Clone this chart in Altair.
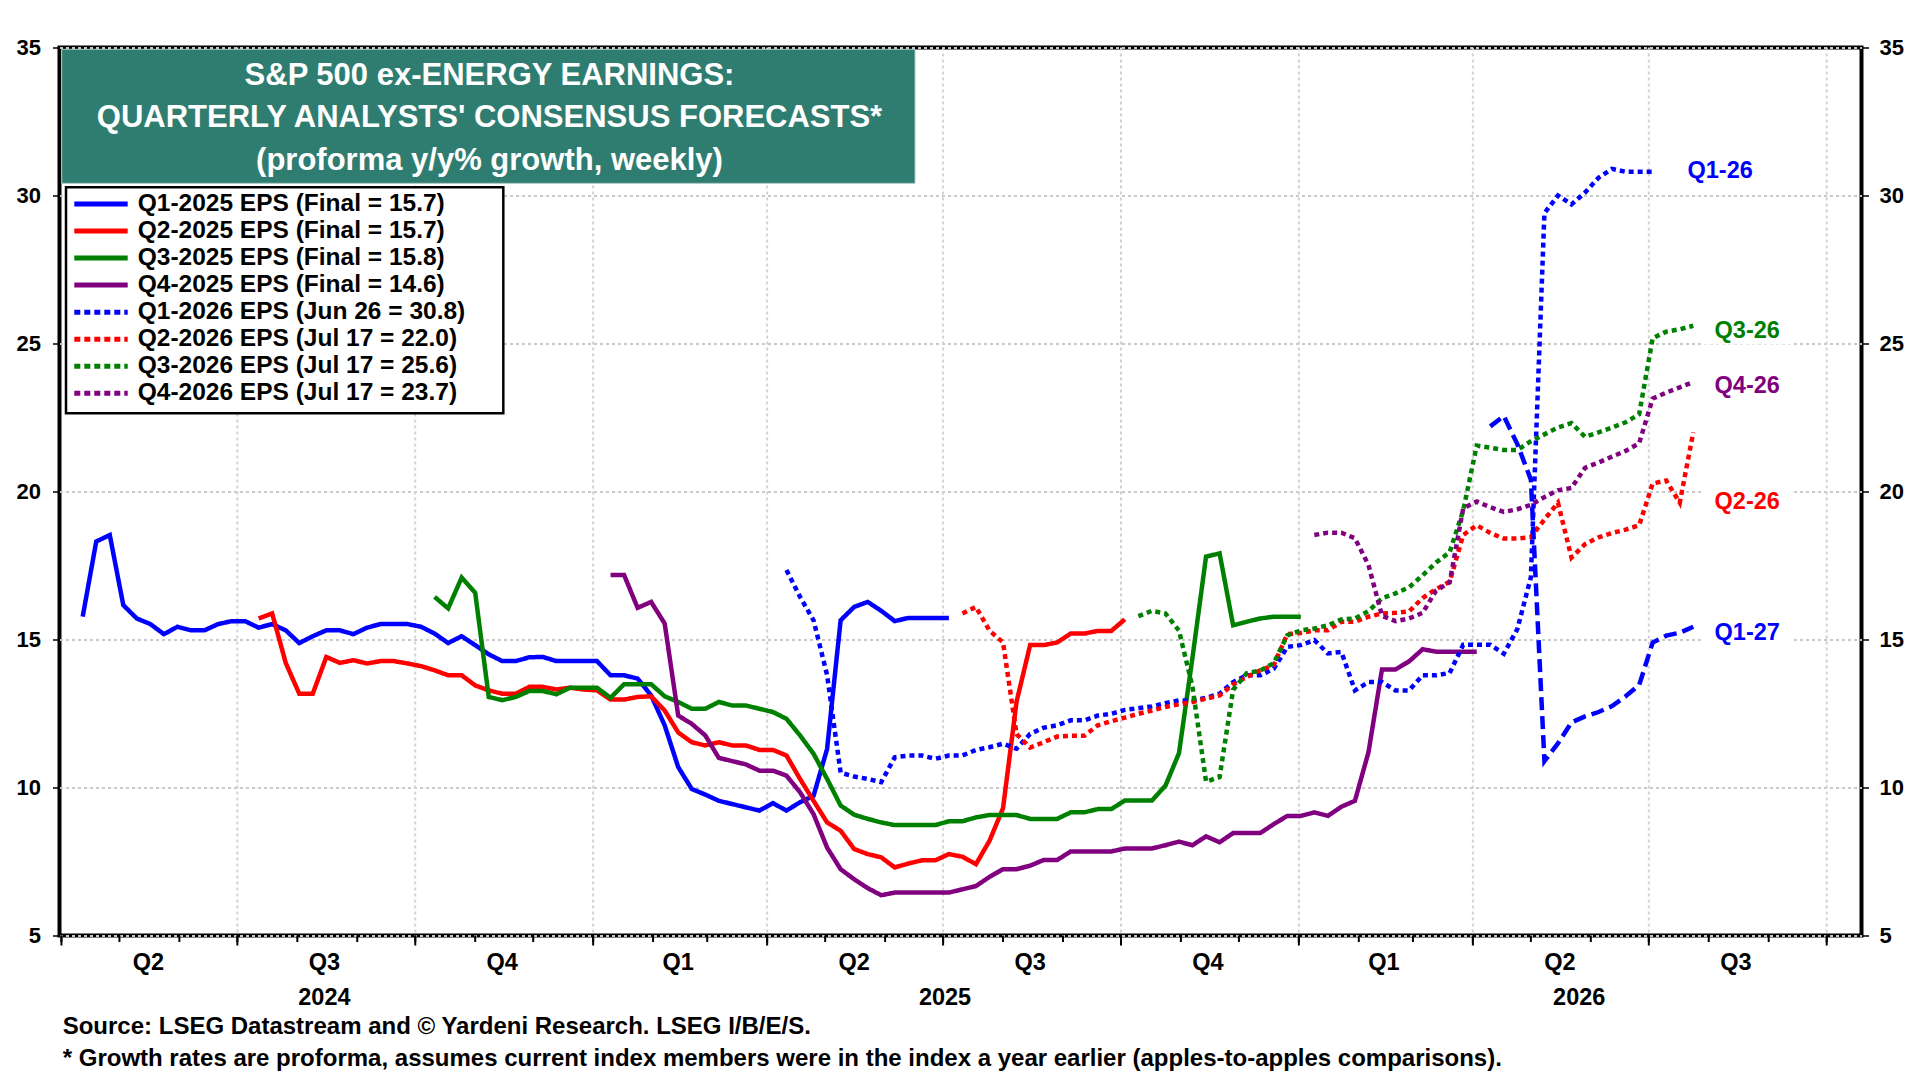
import altair as alt
import pandas as pd

FONT = "Liberation Sans"

FIRST_WEEK = "2024-04-12"   # date of week index 0

Q1_2025_START = 0
Q1_2025 = [15.77, 18.31, 18.53, 16.16, 15.71, 15.52, 15.18, 15.43, 15.31, 15.31,
           15.52, 15.62, 15.62, 15.40, 15.52, 15.31, 14.88, 15.11, 15.31, 15.31,
           15.18, 15.40, 15.52, 15.52, 15.52, 15.43, 15.20, 14.88, 15.11, 14.81,
           14.50, 14.27, 14.27, 14.40, 14.41, 14.27, 14.27, 14.27, 14.27, 13.79,
           13.79, 13.68, 13.11, 12.10, 10.69, 9.95, 9.76, 9.55, 9.44, 9.33,
           9.22, 9.47, 9.22, 9.50, 9.72, 11.30, 15.65, 16.10, 16.27, 15.97,
           15.62, 15.73, 15.73, 15.73, 15.73]

Q2_2025_START = 13
Q2_2025 = [15.71, 15.88, 14.21, 13.17, 13.17, 14.41, 14.21, 14.30, 14.19, 14.27,
           14.27, 14.19, 14.10, 13.96, 13.79, 13.79, 13.45, 13.28, 13.17, 13.17,
           13.40, 13.40, 13.31, 13.37, 13.31, 13.28, 12.97, 12.97, 13.06, 13.08,
           12.60, 11.86, 11.53, 11.42, 11.53, 11.42, 11.42, 11.27, 11.27, 11.08,
           10.29, 9.55, 8.82, 8.54, 7.92, 7.75, 7.64, 7.30, 7.43, 7.54,
           7.54, 7.75, 7.66, 7.41, 8.20, 9.30, 12.90, 14.81, 14.81, 14.90,
           15.20, 15.20, 15.29, 15.29, 15.68]

Q3_2025_START = 26
Q3_2025 = [16.44, 16.05, 17.09, 16.58, 13.06, 12.95, 13.06, 13.26, 13.26, 13.15,
           13.37, 13.37, 13.37, 13.03, 13.49, 13.49, 13.49, 13.08, 12.89, 12.66,
           12.66, 12.89, 12.77, 12.77, 12.66, 12.55, 12.32, 11.76, 11.14, 10.29,
           9.39, 9.08, 8.94, 8.82, 8.73, 8.73, 8.73, 8.73, 8.86, 8.86,
           8.99, 9.07, 9.07, 9.07, 8.94, 8.94, 8.94, 9.16, 9.16, 9.27,
           9.27, 9.56, 9.56, 9.56, 10.06, 11.16, 14.40, 17.80, 17.91, 15.48,
           15.60, 15.71, 15.77, 15.77, 15.77]

Q4_2025_START = 39
Q4_2025 = [17.18, 17.18, 16.07, 16.27, 15.54, 12.43, 12.15, 11.76, 11.00, 10.89,
           10.78, 10.57, 10.57, 10.40, 9.84, 9.10, 7.97, 7.24, 6.90, 6.60,
           6.36, 6.45, 6.45, 6.45, 6.45, 6.45, 6.56, 6.67, 6.98, 7.24,
           7.24, 7.36, 7.55, 7.55, 7.84, 7.84, 7.84, 7.84, 7.94, 7.94,
           7.94, 8.05, 8.17, 8.05, 8.35, 8.15, 8.46, 8.46, 8.46, 8.76,
           9.04, 9.04, 9.16, 9.04, 9.35, 9.55, 11.19, 13.99, 13.99, 14.26,
           14.67, 14.59, 14.59, 14.59, 14.59]

Q1_2026_START = 52
Q1_2026 = [17.35, 16.44, 15.65, 13.80, 10.50, 10.37, 10.29, 10.18, 11.02, 11.08,
           11.08, 10.97, 11.08, 11.08, 11.27, 11.36, 11.48, 11.31, 11.81, 12.02,
           12.10, 12.27, 12.27, 12.43, 12.49, 12.62, 12.68, 12.74, 12.85, 12.94,
           12.94, 13.03, 13.17, 13.56, 13.79, 13.79, 14.01, 14.75, 14.81, 14.98,
           14.53, 14.58, 13.28, 13.56, 13.56, 13.28, 13.28, 13.79, 13.79, 13.87,
           14.82, 14.82, 14.82, 14.52, 15.35, 17.10, 29.40, 30.00, 29.70, 30.10,
           30.60, 30.90, 30.80, 30.80, 30.80]

Q2_2026_START = 65
Q2_2026 = [15.88, 16.10, 15.30, 14.90, 11.80, 11.35, 11.53, 11.72, 11.75, 11.75,
           12.10, 12.24, 12.36, 12.49, 12.60, 12.72, 12.81, 12.89, 13.00, 13.11,
           13.48, 13.73, 13.96, 14.13, 15.18, 15.22, 15.31, 15.31, 15.60, 15.60,
           15.77, 15.88, 15.90, 15.95, 16.40, 16.70, 16.95, 18.53, 18.86, 18.60,
           18.41, 18.41, 18.46, 19.05, 19.62, 17.77, 18.22, 18.45, 18.60, 18.71,
           18.86, 20.27, 20.37, 19.62, 22.00]

Q3_2026_START = 78
Q3_2026 = [15.79, 15.97, 15.88, 15.30, 13.40, 10.20, 10.35, 13.30, 13.86, 13.95,
           14.20, 15.14, 15.31, 15.37, 15.48, 15.68, 15.71, 15.96, 16.39, 16.56,
           16.76, 17.17, 17.60, 17.95, 19.36, 21.55, 21.48, 21.40, 21.40, 21.70,
           21.93, 22.16, 22.31, 21.85, 22.00, 22.16, 22.34, 22.61, 25.18, 25.40,
           25.48, 25.60]

Q4_2026_START = 91
Q4_2026 = [18.53, 18.61, 18.61, 18.42, 17.52, 15.80, 15.62, 15.71, 15.90, 16.65,
           16.93, 19.43, 19.66, 19.47, 19.31, 19.40, 19.55, 19.81, 20.04, 20.12,
           20.80, 20.98, 21.18, 21.37, 21.63, 23.14, 23.34, 23.52, 23.70]

Q1_2027_START = 104
Q1_2027 = [22.20, 22.55, 21.60, 20.40, 10.89, 11.49, 12.20, 12.40, 12.55, 12.75,
           13.08, 13.46, 14.90, 15.13, 15.23, 15.43]

SERIES_NAMES = [
    "Q1-2025 EPS (Final = 15.7)",
    "Q2-2025 EPS (Final = 15.7)",
    "Q3-2025 EPS (Final = 15.8)",
    "Q4-2025 EPS (Final = 14.6)",
    "Q1-2026 EPS (Jun 26 = 30.8)",
    "Q2-2026 EPS (Jul 17 = 22.0)",
    "Q3-2026 EPS (Jul 17 = 25.6)",
    "Q4-2026 EPS (Jul 17 = 23.7)",
    "Q1-2027 EPS",
]
SERIES_VALUES = [Q1_2025, Q2_2025, Q3_2025, Q4_2025, Q1_2026, Q2_2026, Q3_2026, Q4_2026, Q1_2027]
SERIES_STARTS = [Q1_2025_START, Q2_2025_START, Q3_2025_START, Q4_2025_START, Q1_2026_START,
                 Q2_2026_START, Q3_2026_START, Q4_2026_START, Q1_2027_START]

END_LABELS = ["Q1-26", "Q3-26", "Q4-26", "Q2-26", "Q1-27"]
END_LABEL_DATES = ["2026-07-21", "2026-08-04", "2026-08-04", "2026-08-04", "2026-08-04"]
END_LABEL_VALUES = [30.83, 25.42, 23.56, 19.64, 15.22]

QUARTER_LABELS = ["Q2", "Q3", "Q4", "Q1", "Q2", "Q3", "Q4", "Q1", "Q2", "Q3"]
QUARTER_LABEL_DATES = ["2024-05-16", "2024-08-15", "2024-11-15", "2025-02-14", "2025-05-16",
                       "2025-08-15", "2025-11-15", "2026-02-14", "2026-05-16", "2026-08-15"]
YEAR_LABELS = ["2024", "2025", "2026"]
YEAR_LABEL_DATES = ["2024-08-15", "2025-07-02", "2026-05-26"]

TITLE_LINES = ["S&P 500 ex-ENERGY EARNINGS:",
               "QUARTERLY ANALYSTS' CONSENSUS FORECASTS*",
               "(proforma y/y% growth, weekly)"]
FOOTER_LINES = ["Source: LSEG Datastream and \u00a9 Yardeni Research. LSEG I/B/E/S.",
                "* Growth rates are proforma, assumes current index members were in the index a year earlier (apples-to-apples comparisons)."]

# ---------------- styles ----------------
BLUE, RED, GREEN, PURPLE = "#0000FF", "#FF0000", "#008000", "#800080"
SERIES_COLORS = [BLUE, RED, GREEN, PURPLE, BLUE, RED, GREEN, PURPLE, BLUE]
SOLID, DOTTED, DASHED = [1, 0], [5, 4], [13, 6]
SERIES_DASHES = [SOLID] * 4 + [DOTTED] * 4 + [DASHED]
END_LABEL_COLORS = [BLUE, GREEN, PURPLE, RED, BLUE]

W, H = 1802, 888
X_DOMAIN = ["2024-03-31", "2026-10-19"]
Y_DOMAIN = [5, 35]

# ---------------- tables ----------------
rows = []
first = pd.Timestamp(FIRST_WEEK)
for name, start, vals in zip(SERIES_NAMES, SERIES_STARTS, SERIES_VALUES):
    for i, v in enumerate(vals):
        rows.append({"series": name,
                     "date": (first + pd.Timedelta(days=7 * (start + i))).strftime("%Y-%m-%d"),
                     "value": v})
df = pd.DataFrame(rows)

end_df = pd.DataFrame({"label": END_LABELS, "date": END_LABEL_DATES,
                       "value": END_LABEL_VALUES, "color": END_LABEL_COLORS})
# white backing boxes behind the end labels (derived from the label anchors)
end_df["bx0"] = (pd.to_datetime(end_df["date"]) - pd.Timedelta(days=6)).dt.strftime("%Y-%m-%d")
end_df["bx1"] = (pd.to_datetime(end_df["date"]) + pd.Timedelta(days=40)).dt.strftime("%Y-%m-%d")
end_df["by0"] = end_df["value"] - 0.45
end_df["by1"] = end_df["value"] + 0.45

q_df = pd.DataFrame({"label": QUARTER_LABELS, "date": QUARTER_LABEL_DATES})
yr_df = pd.DataFrame({"label": YEAR_LABELS, "date": YEAR_LABEL_DATES})
months = pd.date_range("2024-04-01", "2026-10-01", freq="MS")
month_df = pd.DataFrame({"date": months.strftime("%Y-%m-%d")})
quarters = pd.date_range("2024-04-01", "2026-10-01", freq="QS")
quarter_df = pd.DataFrame({"date": quarters.strftime("%Y-%m-%d")})
grid_df = quarter_df.iloc[1:].reset_index(drop=True)
ONE = pd.DataFrame({"k": [0]})
YAX = pd.DataFrame({"v": Y_DOMAIN})

xscale = alt.Scale(domain=X_DOMAIN)
yscale = alt.Scale(domain=Y_DOMAIN, nice=False, zero=False)


def xenc(field="date"):
    return alt.X(f"{field}:T", scale=xscale, axis=None)


def yaxis(orient, grid, pad):
    return alt.Axis(orient=orient, values=[5, 10, 15, 20, 25, 30, 35], grid=grid,
                    gridDash=[3, 3], gridColor="#c8c8c8", gridWidth=2,
                    domain=False, tickSize=7, tickWidth=1.5, tickColor="black",
                    labelFont=FONT, labelFontWeight="bold", labelFontSize=22,
                    labelColor="black", labelPadding=pad, title=None)


layers = []

# vertical quarter grid
layers.append(alt.Chart(grid_df).mark_rule(color="#d2d2d2", strokeWidth=2, strokeDash=[3, 3])
              .encode(x=xenc()))

# series lines
layers.append(alt.Chart(df).mark_line(strokeWidth=4.5, strokeJoin="miter").encode(
    x=xenc(),
    y=alt.Y("value:Q", scale=yscale, axis=yaxis("left", True, 12)),
    color=alt.Color("series:N", scale=alt.Scale(domain=SERIES_NAMES, range=SERIES_COLORS), legend=None),
    strokeDash=alt.StrokeDash("series:N", scale=alt.Scale(domain=SERIES_NAMES, range=SERIES_DASHES), legend=None),
))

# end labels with white backing
layers.append(alt.Chart(end_df).mark_rect(color="white").encode(
    x=xenc("bx0"), x2="bx1:T",
    y=alt.Y("by0:Q", scale=yscale, axis=None), y2="by1:Q",
))
layers.append(alt.Chart(end_df).mark_text(align="left", baseline="middle", font=FONT,
                                          fontWeight="bold", fontSize=23.5).encode(
    x=xenc(),
    y=alt.Y("value:Q", scale=yscale, axis=None),
    text="label:N",
    color=alt.Color("color:N", scale=None),
))

# x-axis ticks
layers.append(alt.Chart(month_df).mark_rule(color="black", strokeWidth=2)
              .encode(x=xenc(), y=alt.value(H), y2=alt.value(H + 6.5)))
layers.append(alt.Chart(quarter_df).mark_rule(color="black", strokeWidth=2)
              .encode(x=xenc(), y=alt.value(H), y2=alt.value(H + 10)))
layers.append(alt.Chart(q_df).mark_text(font=FONT, fontWeight="bold", fontSize=23.5,
                                        color="black", baseline="middle")
              .encode(x=xenc(), y=alt.value(915.5), text="label:N"))
layers.append(alt.Chart(yr_df).mark_text(font=FONT, fontWeight="bold", fontSize=23.5,
                                         color="black", baseline="middle")
              .encode(x=xenc(), y=alt.value(950.5), text="label:N"))

# title box
layers.append(alt.Chart(ONE).mark_rect(color="#2F7D71", stroke="#a9c9c3", strokeWidth=1).encode(
    x=alt.value(2.2), x2=alt.value(855.5), y=alt.value(1.8), y2=alt.value(135.8)))
for i, line in enumerate(TITLE_LINES):
    layers.append(alt.Chart(ONE).mark_text(text=line, font=FONT, fontWeight="bold", fontSize=31,
                                           color="white", align="center", baseline="middle")
                  .encode(x=alt.value(430), y=alt.value(28 + 42.5 * i)))

# legend box
layers.append(alt.Chart(ONE).mark_rect(fill="white", stroke="black", strokeWidth=2.5).encode(
    x=alt.value(6.5), x2=alt.value(443.8), y=alt.value(139.8), y2=alt.value(365.7)))
for i in range(8):
    yy = 156.4 + 27.06 * i
    dash = [1, 0] if SERIES_DASHES[i] == SOLID else [6, 4]
    layers.append(alt.Chart(ONE).mark_rule(color=SERIES_COLORS[i], strokeWidth=5, strokeDash=dash)
                  .encode(x=alt.value(14.8), x2=alt.value(68.2), y=alt.value(yy)))
    layers.append(alt.Chart(ONE).mark_text(text=SERIES_NAMES[i], font=FONT, fontWeight="bold",
                                           fontSize=24.5, color="black", align="left", baseline="middle")
                  .encode(x=alt.value(78.2), y=alt.value(yy)))

# footer
for i, line in enumerate(FOOTER_LINES):
    layers.append(alt.Chart(ONE).mark_text(text=line, font=FONT, fontWeight="bold", fontSize=24,
                                           color="black", align="left", baseline="alphabetic")
                  .encode(x=alt.value(3.2), y=alt.value(986.5 + 31.5 * i)))

# right axis
layers.append(alt.Chart(YAX).mark_point(opacity=0).encode(
    y=alt.Y("v:Q", scale=yscale, axis=yaxis("right", False, 10.5))))

chart = alt.layer(*layers).resolve_scale(y="independent").properties(
    width=W, height=H,
    autosize=alt.AutoSizeParams(type="none"),
    padding={"left": 51.5, "top": 39.5, "right": 50, "bottom": 136},
    background="white",
).configure_view(stroke="black", strokeWidth=4)

chart.save("out.html", embed_options={"renderer": "svg", "actions": False})
